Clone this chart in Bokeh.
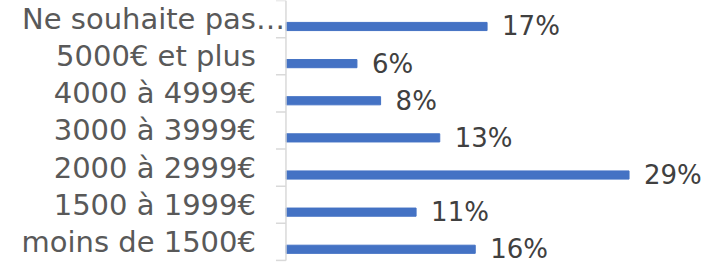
import math
from bokeh.plotting import figure
from bokeh.models import Range1d, ColumnDataSource
from bokeh.core.properties import value
from bokeh.embed import file_html
from bokeh.resources import INLINE

# Data (bottom to top)
categories = ["moins de 1500€", "1500 à 1999€", "2000 à 2999€", "3000 à 3999€",
              "4000 à 4999€", "5000€ et plus", "Ne souhaite pas…"]
percentages = [16, 11, 29, 13, 8, 6, 17]
value_labels = [f"{v}%" for v in percentages]

n = len(categories)
centers = [i + 0.5 for i in range(n)]
bar_y = [c - 0.2 for c in centers]
boundaries = list(range(n + 1))
# label offsets: the truncated last label overflows up to the axis (as in the original)
label_offsets = [-30 if not c.endswith("…") else -1 for c in categories]

src = ColumnDataSource(dict(cat=categories, pct=percentages, lab=value_labels,
                            yc=centers, yb=bar_y, off=label_offsets))

p = figure(width=702, height=264, output_backend="svg", toolbar_location=None,
           x_range=Range1d(-24.13, 35.21), y_range=Range1d(-0.11, 7.0),
           x_axis_type=None, y_axis_type=None, min_border=0)
p.grid.visible = False
p.outline_line_color = None
p.background_fill_color = "white"
p.border_fill_color = "white"

p.hbar(y="yb", left=0, right="pct", height=0.22, color="#4472C4", source=src)

# vertical axis line and tick marks at category boundaries
p.segment(x0=0, y0=0, x1=0, y1=n, line_color="#d9d9d9", line_width=1.5)
p.ray(x=0, y=boundaries, length=10, length_units="screen", angle=math.pi,
      line_color="#d9d9d9", line_width=1.5)

# category labels
p.text(x=0, y="yc", text="cat", x_offset="off", text_align="right",
       text_baseline="middle", text_font=value("DejaVu Sans"),
       text_font_size="29px", text_color="#595959", source=src)

# value labels
p.text(x="pct", y="yb", text="lab", x_offset=15, text_align="left",
       text_baseline="middle", text_font=value("DejaVu Sans"),
       text_font_size="26px", text_color="#404040", source=src)

open("out.html", "w").write(file_html(p, INLINE))
